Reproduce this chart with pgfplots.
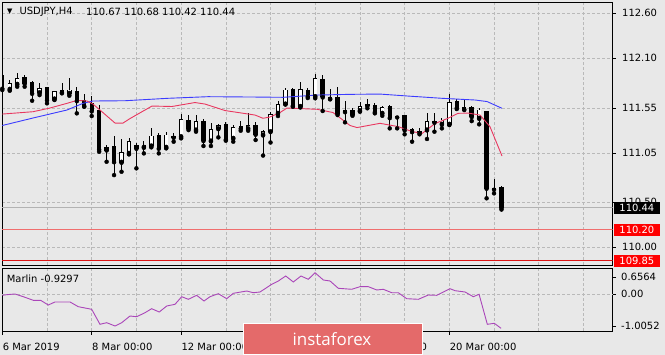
\documentclass[border=0pt]{standalone}
\usepackage{fontspec}
\setmainfont{DejaVu Sans}
\newfontfamily\wmfont{Open Sans}
\usepackage{pgfplots}
\usepackage{pgfplotstable}
\pgfplotsset{compat=1.18}

\definecolor{bg}{RGB}{232,232,232}
\definecolor{gridc}{RGB}{185,185,185}
\definecolor{maBlue}{RGB}{60,60,255}
\definecolor{maRed}{RGB}{232,56,96}
\definecolor{marlin}{RGB}{170,70,185}
\definecolor{lvlA}{RGB}{240,110,110}
\definecolor{lvlB}{RGB}{220,20,20}
\definecolor{boxred}{RGB}{255,0,0}
\definecolor{wm}{RGB}{228,106,106}

% k  low  bodylow  bodyhigh  high  (bull=1 white / 0 black)
\pgfplotstableread{
k  L       bl      bh      H       bull
0  111.748 111.767 111.914 111.933 0
1  111.740 111.756 111.822 111.859 1
2  111.785 111.811 111.878 111.933 1
3  111.785 111.822 111.889 111.915 0
4  111.629 111.711 111.829 111.851 0
5  111.692 111.718 111.767 111.829 1
6  111.600 111.637 111.774 111.785 0
7  111.637 111.648 111.729 111.740 1
8  111.711 111.726 111.740 111.822 0
9  111.685 111.711 111.748 111.878 1
10 111.489 111.629 111.737 111.778 0
11 111.562 111.574 111.637 111.700 0
12 111.459 111.515 111.600 111.681 0
13 111.062 111.089 111.526 111.581 0
14 110.951 111.081 111.111 111.137 1
15 110.803 110.951 111.126 111.237 0
16 110.840 110.945 111.056 111.204 1
17 111.033 111.044 111.181 111.211 1
18 110.878 111.100 111.137 111.156 0
19 111.044 111.111 111.137 111.181 1
20 111.111 111.126 111.237 111.322 1
21 111.044 111.100 111.248 111.274 0
22 111.100 111.111 111.248 111.285 1
23 111.174 111.222 111.237 111.274 0
24 111.211 111.229 111.422 111.481 1
25 111.303 111.322 111.415 111.470 0
26 111.285 111.303 111.396 111.470 1
27 111.126 111.185 111.403 111.422 0
28 111.126 111.181 111.311 111.378 1
29 111.222 111.318 111.356 111.370 1
30 111.185 111.200 111.367 111.389 0
31 111.174 111.211 111.333 111.359 1
32 111.296 111.322 111.340 111.404 0
33 111.296 111.318 111.356 111.489 1
34 111.193 111.256 111.359 111.396 0
35 111.020 111.248 111.287 111.303 1
36 111.165 111.285 111.478 111.507 1
37 111.459 111.489 111.589 111.626 1
38 111.589 111.592 111.748 111.767 1
39 111.562 111.576 111.756 111.767 0
40 111.554 111.565 111.756 111.840 1
41 111.659 111.678 111.740 111.767 0
42 111.656 111.674 111.878 111.926 1
43 111.515 111.670 111.870 111.915 0
44 111.644 111.655 111.667 111.759 0
45 111.470 111.489 111.667 111.785 0
46 111.389 111.507 111.518 111.626 0
47 111.462 111.478 111.518 111.545 0
48 111.507 111.518 111.562 111.611 1
49 111.545 111.574 111.589 111.644 0
50 111.489 111.507 111.581 111.600 0
51 111.462 111.489 111.552 111.574 1
52 111.322 111.440 111.562 111.581 0
53 111.322 111.448 111.459 111.462 0
54 111.256 111.304 111.462 111.470 0
55 111.174 111.285 111.311 111.322 0
56 111.256 111.274 111.285 111.322 0
57 111.204 111.304 111.403 111.489 1
58 111.285 111.389 111.403 111.489 0
59 111.322 111.367 111.415 111.440 1
60 111.359 111.367 111.611 111.700 1
61 111.537 111.552 111.618 111.648 0
62 111.526 111.537 111.552 111.637 0
63 111.403 111.452 111.556 111.574 0
64 111.367 111.433 111.526 111.545 1
65 110.545 110.656 111.507 111.515 0
66 110.600 110.645 110.654 110.756 0
67 110.420 110.440 110.670 110.680 0
}\candles

% white bodies only
\pgfplotstableread{
k  bl      bh
1  111.756 111.822
2  111.811 111.878
5  111.718 111.767
7  111.648 111.729
9  111.711 111.748
14 111.081 111.111
16 110.945 111.056
17 111.044 111.181
19 111.111 111.137
20 111.126 111.237
22 111.111 111.248
24 111.229 111.422
26 111.303 111.396
28 111.181 111.311
29 111.318 111.356
31 111.211 111.333
33 111.318 111.356
35 111.248 111.287
36 111.285 111.478
37 111.489 111.589
38 111.592 111.748
40 111.565 111.756
42 111.674 111.878
48 111.518 111.562
51 111.489 111.552
57 111.304 111.403
59 111.367 111.415
60 111.367 111.611
64 111.433 111.526
}\whites

\begin{document}
\begin{tikzpicture}
\fill[bg] (0,0) rectangle (665bp,355bp);

\begin{axis}[
  at={(2bp,90bp)}, anchor=south west, scale only axis,
  width=610.5bp, height=263bp,
  xmin=-0.04, xmax=81.9, ymin=109.804, ymax=112.726,
  axis background/.style={fill=bg},
  axis line style={black, line width=0.8bp},
  xtick={6,12,...,78}, xticklabels={}, xmajorgrids,
  xtick style={draw=none},
  ytick={110.00,110.50,111.05,111.55,112.10,112.60},
  yticklabels={110.00,110.50,111.05,111.55,112.10,112.60},
  ymajorgrids, ytick pos=right, yticklabel pos=right,
  tick align=outside, major tick length=3bp,
  ytick style={black, line width=0.6bp},
  yticklabel style={anchor=west, inner sep=0pt, xshift=6.5bp},
  grid style={gridc, dash pattern=on 2.5bp off 2.5bp, line width=0.6bp},
]
\addplot[lvlA, line width=0.9bp, forget plot] coordinates {(-0.04,110.20) (81.9,110.20)};
\addplot[lvlB, line width=0.9bp, forget plot] coordinates {(-0.04,109.85) (81.9,109.85)};
\addplot[gray!60, line width=0.8bp, forget plot] coordinates {(-0.04,110.44) (81.9,110.44)};

% wicks
\addplot[only marks, mark=none, forget plot,
  error bars/.cd, y dir=plus, y explicit, error mark=none,
  error bar style={draw=black, line width=0.8bp}]
  table[x=k, y=L, y error plus expr={\thisrow{H}-\thisrow{L}}] {\candles};
% body outlines / black bodies
\addplot[only marks, mark=none, forget plot,
  error bars/.cd, y dir=plus, y explicit, error mark=none,
  error bar style={draw=black, line width=4.4bp}]
  table[x=k, y expr={\thisrow{bl}-0.005}, y error plus expr={\thisrow{bh}-\thisrow{bl}+0.010}] {\candles};
% white bodies
\addplot[only marks, mark=none, forget plot,
  error bars/.cd, y dir=plus, y explicit, error mark=none,
  error bar style={draw=white, line width=2.8bp}]
  table[x=k, y expr={\thisrow{bl}+0.005}, y error plus expr={\thisrow{bh}-\thisrow{bl}-0.010}] {\whites};

\addplot[maBlue, line width=0.9bp] coordinates {
(0,111.354) (4.12,111.437) (8.68,111.526) (10.83,111.600) (12.17,111.626)
(16.47,111.629) (22.24,111.656) (27.61,111.674) (33.92,111.670) (37.68,111.667)
(42.24,111.692) (46.67,111.700) (50.7,111.703) (54.45,111.681) (59.02,111.656)
(63.45,111.637) (65.06,111.620) (67.07,111.545)};
\addplot[maRed, line width=0.9bp] coordinates {
(0,111.481) (4.12,111.507) (6.40,111.548) (8.68,111.600) (10.03,111.633)
(11.37,111.626) (12.17,111.592) (13.11,111.526) (15.13,111.381) (16.20,111.381)
(17.14,111.431) (20.09,111.570) (22.78,111.565) (25.86,111.609) (27.21,111.592)
(29.89,111.520) (33.92,111.470) (34.99,111.434) (35.93,111.448) (37.28,111.498)
(38.21,111.548) (42.24,111.534) (44.39,111.498) (46.67,111.354) (47.61,111.331)
(50.7,111.378) (53.11,111.342) (55.0,111.287) (56.34,111.265) (58.08,111.376)
(59.83,111.434) (61.17,111.489) (62.51,111.492) (64.12,111.470) (65.46,111.340)
(67.07,111.015)};
\end{axis}

\begin{axis}[
  at={(2bp,24bp)}, anchor=south west, scale only axis,
  width=610.5bp, height=63bp,
  xmin=-0.04, xmax=81.9, ymin=-1.0052, ymax=0.711,
  axis background/.style={fill=bg},
  axis line style={black, line width=0.8bp},
  xtick={0,12,24,36,48,60},
  xticklabels={6 Mar 2019,8 Mar 00:00,12 Mar 00:00,14 Mar 00:00,18 Mar 00:00,20 Mar 00:00},
  minor xtick={6,18,30,42,54,66,72,78},
  xmajorgrids, xminorgrids, minor tick length=0pt,
  xtick pos=left, ytick pos=right, yticklabel pos=right,
  tick align=outside, major tick length=3.5bp,
  tick style={black, line width=0.6bp},
  xticklabel style={anchor=west, inner sep=0pt, yshift=-12bp, xshift=0.3bp},
  ytick={0.466,0,-0.869},
  yticklabels={0.6564,0.00,-1.0052},
  yticklabel style={anchor=west, inner sep=0pt, xshift=5bp},
  extra y ticks={0}, extra y tick labels={},
  extra y tick style={ymajorgrids=true, major tick length=0pt},
  grid style={gridc, dash pattern=on 2.5bp off 2.5bp, line width=0.6bp},
]
\addplot[marlin, line width=0.9bp] coordinates {
(0,-0.033) (0.59,-0.016) (1.70,0.003) (2.82,-0.071) (4.16,-0.169) (5.15,-0.169)
(6.17,-0.297) (7.07,-0.215) (9.09,-0.215) (10.20,-0.343) (12.0,-0.414) (13.11,-0.823)
(14.01,-0.779) (15.13,-0.869) (16.03,-0.779) (17.14,-0.597) (18.04,-0.616) (19.15,-0.507)
(20.05,-0.398) (21.07,-0.488) (22.07,-0.324) (23.18,-0.278) (24.08,-0.071) (24.97,-0.142)
(26.09,-0.033) (27.07,-0.188) (27.88,-0.071) (28.99,0.011) (30.12,-0.125) (31.01,0.022)
(32.81,0.084) (33.69,0.038) (34.59,0.057) (36.16,0.267) (37.05,0.357) (38.04,0.493)
(39.06,0.330) (40.09,0.493) (41.07,0.403) (41.97,0.583) (43.09,0.384) (43.99,0.357)
(45.10,0.158) (46.90,0.131) (48.01,0.202) (49.13,0.202) (50.26,0.112) (51.14,0.131)
(52.27,0.038) (53.15,0.038) (54.28,-0.125) (55.84,-0.142) (57.18,-0.025) (58.31,-0.033)
(60.09,0.147) (60.77,0.093) (62.11,0.057) (63.22,-0.071) (63.99,-0.005) (65.10,-0.823)
(66.04,-0.796) (66.94,-0.932)};
\end{axis}

% header texts
\node[font=\fontsize{7}{8}\selectfont, inner sep=0pt] at (9.7bp,343bp) {▼};
\node[anchor=west, inner sep=0pt] at (19.3bp,342.7bp) {USDJPY,H4};
\node[anchor=west, inner sep=0pt] at (86bp,342.7bp) {110.67 110.68 110.42 110.44};
\node[anchor=west, inner sep=0pt] at (6.7bp,76.3bp) {Marlin -0.9297};

% price boxes
\node[anchor=west, fill=black, text=white, minimum width=46.7bp, minimum height=12.5bp, inner sep=0pt] at (613.3bp,147bp) {110.44};
\node[anchor=west, fill=boxred, text=white, minimum width=46.7bp, minimum height=12.5bp, inner sep=0pt] at (613.3bp,125bp) {110.20};
\node[anchor=west, fill=boxred, text=white, minimum width=46.7bp, minimum height=12.5bp, inner sep=0pt] at (613.3bp,94bp) {109.85};

% watermark
\filldraw[fill=wm, draw=white, line width=0.8bp] (243.3bp,0.5bp) rectangle (422.7bp,31.7bp);
\node[anchor=base, text=white, inner sep=0pt, font=\wmfont\fontsize{17}{20}\selectfont] at (332bp,9.3bp) {instaforex};

\pgfresetboundingbox
\useasboundingbox (0,0) rectangle (665bp,355bp);
\end{tikzpicture}
\end{document}
